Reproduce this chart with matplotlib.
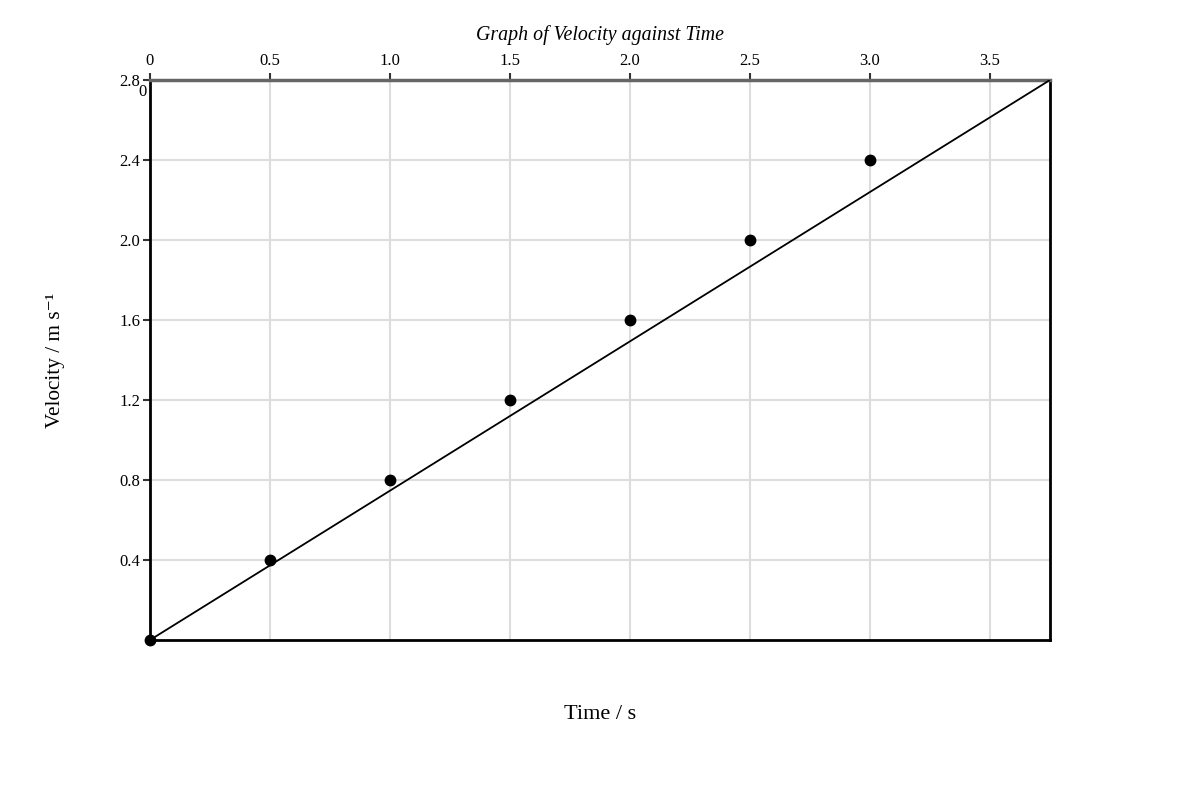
import matplotlib.pyplot as plt
import numpy as np

plt.rcParams['font.family'] = ['Liberation Serif', 'DejaVu Serif']

# Measured data
time_s = [0, 0.5, 1.0, 1.5, 2.0, 2.5, 3.0]
velocity = [0, 0.4, 0.8, 1.2, 1.6, 2.0, 2.4]

# best-fit line across the whole plot
fit_t = [0, 3.75]
fit_v = [0, 2.8]

x_ticks = [0, 0.5, 1.0, 1.5, 2.0, 2.5, 3.0, 3.5]
x_labels = ['0', '0.5', '1.0', '1.5', '2.0', '2.5', '3.0', '3.5']
y_ticks = [0.4, 0.8, 1.2, 1.6, 2.0, 2.4, 2.8]
y_labels = ['0.4', '0.8', '1.2', '1.6', '2.0', '2.4', '2.8']

fig = plt.figure(figsize=(12, 8), dpi=100)
ax = fig.add_axes([0.125, 0.2, 0.75, 0.7])

ax.set_xlim(0, 3.75)
ax.set_ylim(0, 2.8)

ax.grid(True, color='#dddddd', linewidth=1.5)
ax.set_axisbelow(True)

ax.plot(fit_t, fit_v, color='black', linewidth=1.3, zorder=3)
ax.plot(time_s, velocity, 'o', color='black', markersize=7.5, zorder=4, clip_on=False)

ax.xaxis.tick_top()
ax.set_xticks(x_ticks)
ax.set_xticklabels(x_labels)
ax.set_yticks(y_ticks)
ax.set_yticklabels(y_labels)
ax.tick_params(axis='x', length=5, width=1.5, color='#333333', labelsize=12, pad=3)
ax.tick_params(axis='y', length=5, width=1.5, color='#333333', labelsize=12, pad=2)

for side in ['left', 'right', 'bottom']:
    ax.spines[side].set_color('black')
    ax.spines[side].set_linewidth(2)
ax.spines['top'].set_color('#666666')
ax.spines['top'].set_linewidth(2.5)

# stray zero label sitting near the top-left corner
ax.text(-0.015, 2.74, '0', ha='right', va='center', fontsize=12,
        transform=ax.transData)

fig.text(0.5, 0.956, 'Graph of Velocity against Time', ha='center', va='center',
         fontsize=14.3, style='italic')
fig.text(0.5, 0.107, 'Time / s', ha='center', va='center', fontsize=16)
fig.text(0.0465, 0.55, 'Velocity / m s\u207b\u00b9', ha='center', va='center',
         fontsize=15.3, rotation=90)

fig.savefig('out.png', dpi=100)
